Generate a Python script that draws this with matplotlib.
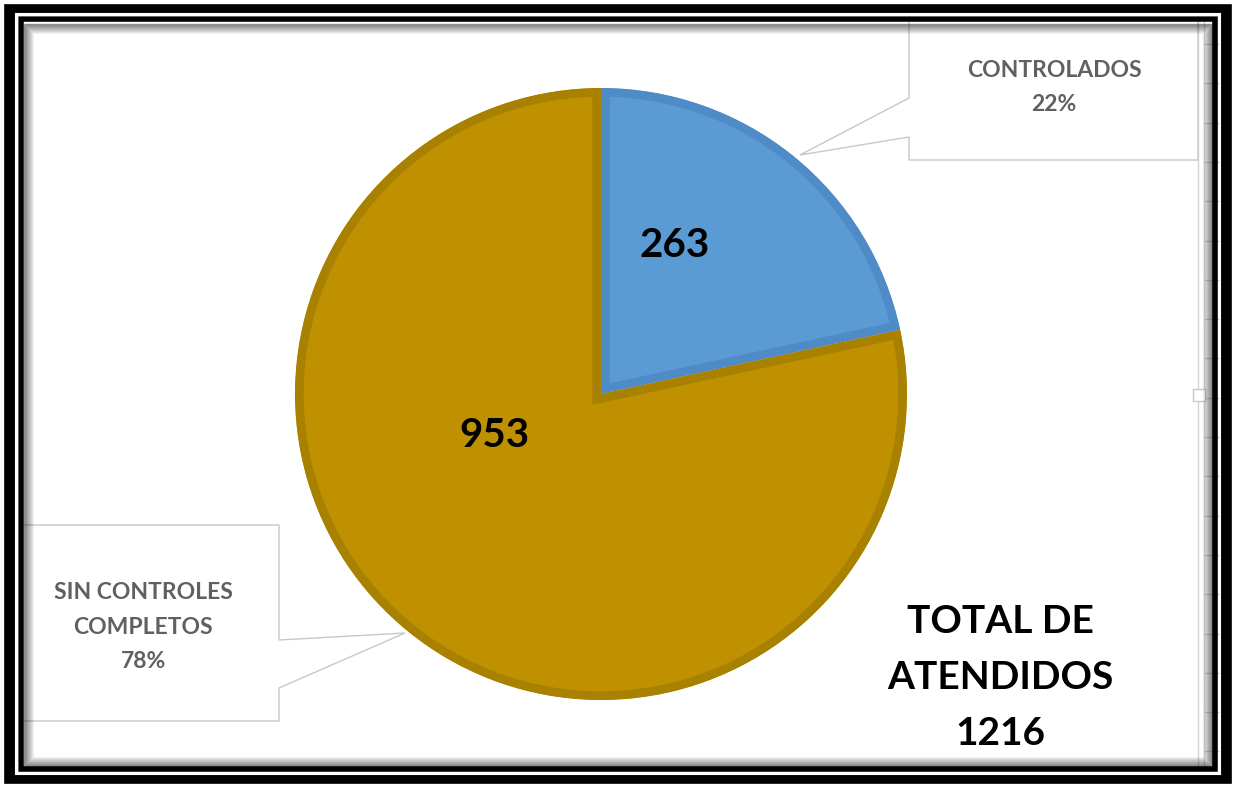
import numpy as np
import matplotlib
matplotlib.use("Agg")
import matplotlib.pyplot as plt
from matplotlib.patches import Rectangle, Polygon

plt.rcParams["font.family"] = ["Lato", "DejaVu Sans"]

# atendidos por estado de control
categorias = [["CONTROLADOS"], ["SIN CONTROLES", "COMPLETOS"]]
valores = [263, 953]
porcentajes = ["22%", "78%"]
colores = ["#5B9BD5", "#BF9000"]
bordes = ["#4F8BC6", "#A88100"]
total = sum(valores)

W, H = 1236, 788


def py(y):
    # fila en píxeles (de arriba abajo) -> y de datos
    return H - y


fig = plt.figure(figsize=(W / 100, H / 100), dpi=100)
ax = fig.add_axes([0, 0, 1, 1])

wedges, _ = ax.pie(valores, colors=colores, startangle=90, counterclock=False,
                   center=(601, py(394)), radius=306,
                   wedgeprops=dict(linewidth=12.5))
ax.set_xlim(0, W)
ax.set_ylim(0, H)
for w, ec in zip(wedges, bordes):
    w.set_edgecolor(ec)
    w.set_joinstyle("miter")
    # borde sólo hacia dentro de cada porción
    w.set_clip_on(True)
    w.set_clip_path(w)

# valores dentro de cada porción
ax.text(675, py(257), str(valores[0]), ha="center", va="baseline",
        fontsize=29, fontweight="bold", color="black")
ax.text(494, py(447), str(valores[1]), ha="center", va="baseline",
        fontsize=29, fontweight="bold", color="black")

# cuadros de llamada con flecha hacia la porción
caja_sup = [(909, 10), (1198, 10), (1198, 160), (909, 160), (909, 137),
            (800, 155), (909, 98)]
caja_inf = [(10, 525), (279, 525), (279, 640), (405, 633), (279, 688),
            (279, 721), (10, 721)]
for pts in (caja_sup, caja_inf):
    ax.add_patch(Polygon([(x, py(y)) for x, y in pts], closed=True,
                         facecolor="white", edgecolor="#C8C8C8", lw=1.0, zorder=3))


def rotulo(x, base, lineas, paso, **kw):
    for i, t in enumerate(lineas):
        ax.text(x, py(base + i * paso), t, ha="center", va="baseline",
                zorder=4, **kw)


estilo_rot = dict(fontsize=16.5, fontweight="bold", color="#606060")
rotulo(1054, 77, categorias[0] + [porcentajes[0]], 34, **estilo_rot)
rotulo(143, 599, categorias[1] + [porcentajes[1]], 34.5, **estilo_rot)
rotulo(1000, 633, ["TOTAL DE", "ATENDIDOS", str(total)], 56,
       fontsize=28, fontweight="bold", color="black")

# celdas de la hoja al borde derecho
for x in (1198, 1204):
    ax.plot([x, x], [py(20), py(770)], color="#D6D6D6", lw=1.0, zorder=2)
for y in np.arange(44, 770, 39.3):
    ax.plot([1204, 1222], [py(y), py(y)], color="#D6D6D6", lw=1.0, zorder=2)
ax.add_patch(Rectangle((1193, py(401)), 12, 12, facecolor="white",
                       edgecolor="#C8C8C8", lw=1.0, zorder=3))

# marco negro doble con sombra interior
for i, a in enumerate(np.linspace(0.4, 0.0, 11)):
    d = 24 + i
    ax.add_patch(Rectangle((d, d - 2), W - 2 * d, H - 2 * d + 2, fill=False,
                           edgecolor="black", alpha=a, lw=1.0, zorder=5))
ax.add_patch(Rectangle((21, 19), W - 42, H - 38, fill=False,
                       edgecolor="black", lw=4.0, zorder=6))
ax.add_patch(Rectangle((15.5, 13.5), W - 31, H - 27, fill=False,
                       edgecolor="white", lw=2.5, zorder=6))
ax.add_patch(Rectangle((8, 6), W - 16, H - 12, fill=False,
                       edgecolor="black", lw=10.0, zorder=6))
ax.add_patch(Rectangle((0, 0), W, H, fill=False, edgecolor="white",
                       lw=6.0, zorder=6))

ax.set_aspect("equal")
ax.set_axis_off()

fig.savefig("out.png", dpi=100, facecolor="white")
